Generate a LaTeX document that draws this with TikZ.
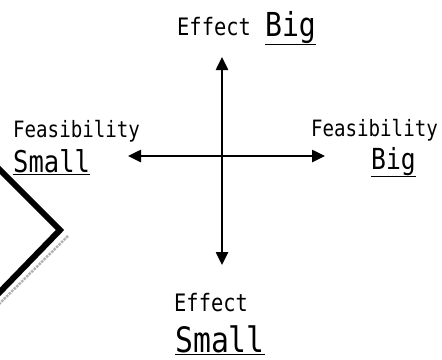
\documentclass[tikz,border=0pt]{standalone}
\usepackage{fontspec}
\newfontfamily\gothfont[FakeStretch=0.85]{DejaVu Sans Mono}
\usetikzlibrary{arrows.meta,positioning}

\tikzset{
	lbl/.style={font=\gothfont\fontsize{22.5}{25}\selectfont, inner sep=0pt},
	word/.style={font=\gothfont\fontsize{#1}{#1}\selectfont, inner sep=0pt},
	axis/.style={line width=2.5pt, {Triangle[length=13pt,width=12pt]}-{Triangle[length=13pt,width=12pt]}}
}

\begin{document}
\begin{tikzpicture}[x=1pt,y=-1pt]
		
		\useasboundingbox (0,0) rectangle (442,359);
		
		% corner of the frame at the left
		\draw[line width=6pt, line join=miter] (-4,166) -- (60,230) -- (-4,296);
		\draw[gray!60, densely dotted, line width=2.5pt] (68,236) -- (-2,305);
		
		% axes
		\coordinate (up) at (222,57);
		\coordinate (dn) at (222,265);
		\coordinate (lt) at (128,156);
		\coordinate (rt) at (325,156);
		
		\draw[axis] (up) -- (dn);
		\draw[axis] (lt) -- (rt);
		
		% labels
		\node[word=24, anchor=base west] (efftop) at (177,35) {Effect};
		\node[word=33, anchor=base west] (bigtop) at (265,36) {\underline{Big}};
		
		\node[lbl, anchor=base west] (feasl) at (13,137) {Feasibility};
		\node[word=30, anchor=base west] (smalll) at (13,172) {\underline{Small}};
		
		\node[lbl, anchor=base east] (feasr) at (438,136) {Feasibility};
		\node[word=29, anchor=base west] (bigr) at (371,169) {\underline{Big}};
		
		\node[word=24, anchor=base west] (effbot) at (174,311) {Effect};
		\node[word=35, anchor=base west] (smallb) at (175,352) {\underline{Small}};
		
	\end{tikzpicture}
\end{document}
